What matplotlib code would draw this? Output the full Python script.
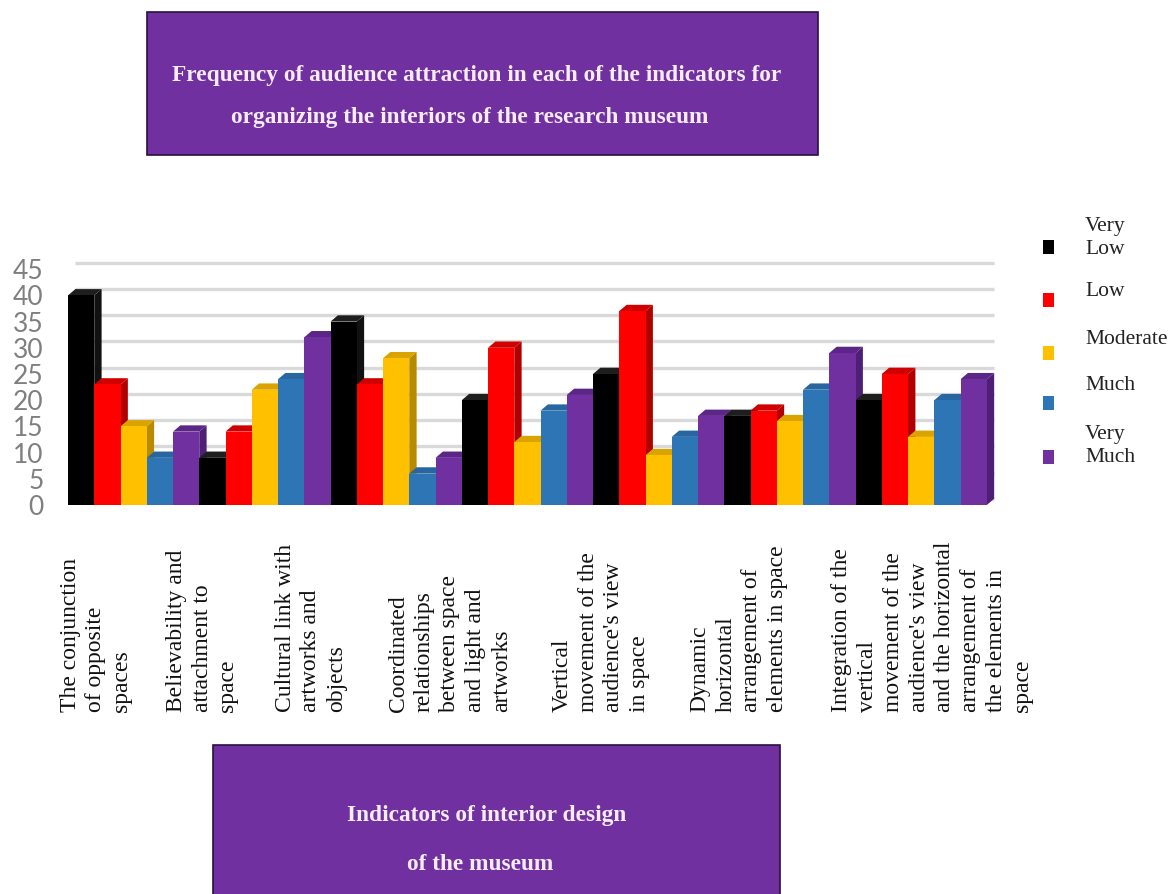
import matplotlib
matplotlib.use("Agg")
import matplotlib.pyplot as plt
from matplotlib.patches import Rectangle, Polygon
import numpy as np

# ---------------- data ----------------
indicators = [
    "The conjunction\nof opposite\nspaces",
    "Believability and\nattachment to\nspace",
    "Cultural link with\nartworks and\nobjects",
    "Coordinated\nrelationships\nbetween space\nand light and\nartworks",
    "Vertical\nmovement of the\naudience's view\nin space",
    "Dynamic\nhorizontal\narrangement of\nelements in space",
    "Integration of the\nvertical\nmovement of the\naudience's view\nand the horizontal\narrangement of\nthe elements in\nspace",
]
series_names = ["Very\nLow", "Low", "Moderate", "Much", "Very\nMuch"]
very_low = [40, 9, 35, 20, 25, 17, 20]
low = [23, 14, 23, 30, 37, 18, 25]
moderate = [15, 22, 28, 12, 9.5, 16, 13]
much = [9, 24, 6, 18, 13, 22, 20]
very_much = [14, 32, 9, 21, 17, 29, 24]
yticks = [0, 5, 10, 15, 20, 25, 30, 35, 40, 45]

series = [very_low, low, moderate, much, very_much]
front_colors = ["#000000", "#FF0000", "#FFC000", "#2E75B6", "#7030A0"]
side_colors = ["#111111", "#B00000", "#B88A00", "#1F5A8F", "#4E1F75"]
top_colors = ["#1e1e1e", "#D00000", "#D9A300", "#2766A0", "#5C2588"]
purple_box = "#7030A0"
box_text = "#F6ECF8"

W, H = 1174, 894
fig = plt.figure(figsize=(W / 100, H / 100), dpi=100)
fig.patch.set_facecolor("white")

# axes placement
ax = fig.add_axes([68 / W, 1 - 505 / H, 928 / W, 246.3 / H])
ax.set_facecolor("none")
dx, dy = 0.28, 1.2
n_groups = len(indicators)
n_series = len(series)
ax.set_xlim(-0.5, n_groups * n_series - 0.5 + 0.35)
ax.set_ylim(0, 47)

# back-wall gridlines
for t in yticks:
    ax.plot([-0.5 + dx, n_groups * n_series - 0.5 + dx], [t + dy, t + dy],
            color="#D9D9D9", lw=2.4, zorder=0, solid_capstyle="butt")

# bars with pseudo-3D faces
z = 2
for g in range(n_groups):
    for s in range(n_series):
        x = g * n_series + s
        v = series[s][g]
        xl, xr = x - 0.5, x + 0.5
        side = Polygon([[xr, 0], [xr + dx, dy], [xr + dx, v + dy], [xr, v]],
                       closed=True, facecolor=side_colors[s], edgecolor="none", zorder=z)
        top = Polygon([[xl, v], [xl + dx, v + dy], [xr + dx, v + dy], [xr, v]],
                      closed=True, facecolor=top_colors[s], edgecolor="none", zorder=z)
        ax.add_patch(side)
        ax.add_patch(top)
        ax.bar(x, v, width=1.0, color=front_colors[s], edgecolor="none", zorder=z + 0.5)
        z += 1

for sp in ax.spines.values():
    sp.set_visible(False)
ax.set_xticks([])
ax.set_yticks(yticks)
ax.set_yticklabels([str(t) for t in yticks], family="Lato", fontsize=19, color="#7F7F7F")
ax.tick_params(axis="y", length=0, pad=17.5)

# x category labels (rotated)
label_cx = [96, 202, 311, 450, 601, 739, 932]
for lab, cx in zip(indicators, label_cx):
    fig.text(cx / W, 1 - 712 / H, lab, rotation=90, ha="center", va="bottom",
             multialignment="left", family="Liberation Serif", fontsize=17,
             linespacing=1.30, color="#111111")

# legend (manual)
marker_y = [247, 300, 353, 403, 457]
text_y = [238, 292, 339, 385, 446]
for name, col, my, ty in zip(series_names, front_colors, marker_y, text_y):
    fig.patches.append(Rectangle((1043 / W, 1 - (my + 7) / H), 11 / W, 14 / H,
                                 transform=fig.transFigure, facecolor=col,
                                 edgecolor="none"))
    fig.text(1085 / W, 1 - ty / H, name, ha="left", va="center",
             family="Liberation Serif", fontsize=15.5, linespacing=1.3,
             color="#222222")

# title box
fig.patches.append(Rectangle((147 / W, 1 - 155 / H), (818 - 147) / W, (155 - 12) / H,
                             transform=fig.transFigure, facecolor=purple_box,
                             edgecolor="#2a1040", lw=1.2))
fig.text(477 / W, 1 - 75 / H,
         "Frequency of audience attraction in each of the indicators for",
         ha="center", va="center", family="Liberation Serif", weight="bold",
         fontsize=16.8, color=box_text)
fig.text(470 / W, 1 - 117 / H,
         "organizing the interiors of the research museum",
         ha="center", va="center", family="Liberation Serif", weight="bold",
         fontsize=16.8, color=box_text)

# bottom box
fig.patches.append(Rectangle((213 / W, 1 - 900 / H), (780 - 213) / W, (900 - 745) / H,
                             transform=fig.transFigure, facecolor=purple_box,
                             edgecolor="#2a1040", lw=1.2))
fig.text(487 / W, 1 - 815 / H, "Indicators of interior design",
         ha="center", va="center", family="Liberation Serif", weight="bold",
         fontsize=16.8, color=box_text)
fig.text(480 / W, 1 - 865 / H, "of the museum",
         ha="center", va="center", family="Liberation Serif", weight="bold",
         fontsize=16.8, color=box_text)

fig.savefig("out.png", dpi=100, facecolor="white")
